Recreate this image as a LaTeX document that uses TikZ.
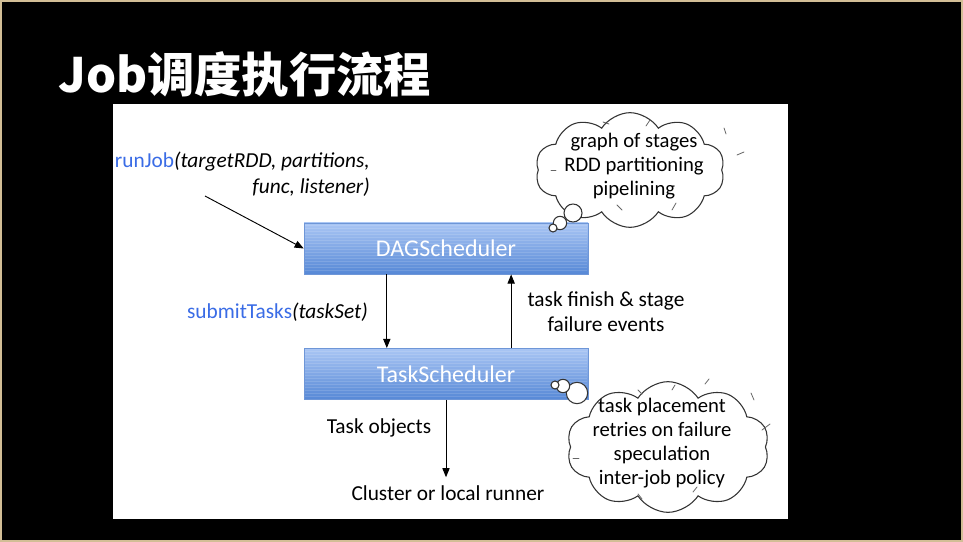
\documentclass[tikz,border=0pt]{standalone}
\usepackage{fontspec}
\setmainfont{Carlito}
\newfontfamily\cjk{Noto Sans CJK SC}
\usepackage{tikz}
\usetikzlibrary{arrows.meta,positioning,calc,shapes.symbols}
\definecolor{frametan}{RGB}{210,190,150}
\definecolor{callblue}{RGB}{58,108,230}
\definecolor{boxtop}{RGB}{170,198,244}
\definecolor{boxbot}{RGB}{86,136,214}
\definecolor{boxline}{RGB}{110,150,215}
\newcommand{\call}[1]{\textcolor{callblue}{#1}}

\begin{document}
\begin{tikzpicture}[x=0.75pt, y=-0.75pt, >={Triangle[length=2.4mm, width=1.9mm]}]
  \tikzset{sched/.style={draw=boxline, top color=boxtop, bottom color=boxbot,
             minimum width=213pt, minimum height=38.5pt, inner sep=0,
             text=white, font=\fontsize{18}{22}\selectfont},
           lbl/.style={font=\fontsize{16}{19}\selectfont, align=center, inner sep=0},
           thought/.style={cloud, draw=black!80, fill=white, line width=0.8pt,
             cloud puffs=10, cloud puff arc=115, aspect=1.7},
           puff/.style={circle, draw=black!80, fill=white, line width=0.8pt,
             inner sep=0, minimum size=#1},
           flow/.style={->, line width=0.7pt},
           sketch/.style={black!60, line width=0.6pt, line cap=round}}

  % slide and panel
  \fill[frametan] (0,0) rectangle (963,542);
  \fill[black] (2,2) rectangle (961,540);
  \fill[white] (113,104) rectangle (788,519);
  \useasboundingbox (0,0) rectangle (963,542);

  \node[anchor=base west, inner sep=0, text=white,
        font=\cjk\bfseries\fontsize{35.5}{40}\selectfont] (title) at (58,93) {Job调度执行流程};

  % the two schedulers
  \node[sched] (dag)  at (446,248.5) {DAGScheduler};
  \node[sched] (task) at (446,374)   {TaskScheduler};
  \foreach \n in {dag,task}
    \foreach \k in {3,6,...,48}
      \draw[white, opacity=0.13, line width=0.5pt]
        ($(\n.north west)+(1,\k)$) -- ($(\n.north east)+(-1,\k)$);

  % job submission
  \node[lbl, anchor=north east, align=right] (runjob) at (370,152)
       {\call{runJob}\textit{(targetRDD, partitions,}\\\textit{func, listener)}};
  \coordinate (rjtail) at (205,196);
  \draw[flow] (rjtail) -- (dag.west);

  % between the schedulers
  \node[lbl, anchor=east] (submit) at (368,312) {\call{submitTasks}\textit{(taskSet)}};
  \node[lbl] (events) at (606,312) {task finish \& stage\\failure events};
  \draw[flow] ($(dag.south west)!0.292!(dag.south east)$)
           -- ($(task.north west)!0.292!(task.north east)$);
  \draw[flow] ($(task.north west)!0.729!(task.north east)$)
           -- ($(dag.south west)!0.729!(dag.south east)$);

  % down to the runner
  \node[lbl] (objs)   at (379,428) {Task objects};
  \node[lbl] (runner) at (448,493) {Cluster or local runner};
  \draw[flow] (task.south) -- ([yshift=6pt]task.south |- runner.north);

  % thought bubble of the DAGScheduler
  \node[thought, minimum width=142pt, minimum height=86pt] (stagecloud) at (630,170) {};
  \node[lbl, font=\fontsize{15.5}{18}\selectfont] (stagetext) at (634,166)
       {graph of stages\\RDD partitioning\\pipelining};
  \node[puff=13.5pt] (sp3) at (573,213) {};
  \node[puff=10pt]   (sp2) at (560,223) {};
  \node[puff=6pt]    (sp1) at (553,228) {};
  \draw[sketch] (603,122) -- (609,124);
  \draw[sketch] (646,126) -- (650,120);
  \draw[sketch] (724,128) -- (726,134);
  \draw[sketch] (737,155) -- (744,152);
  \draw[sketch] (551,170) -- (556,170);
  \draw[sketch] (617,205) -- (622,210);
  \draw[sketch] (672,210) -- (676,203);

  % thought bubble of the TaskScheduler
  \node[thought, minimum width=152pt, minimum height=98pt] (taskcloud) at (668,447) {};
  \node[lbl, font=\fontsize{15.5}{18}\selectfont] (tasktext) at (662,443)
       {task placement\\retries on failure\\speculation\\inter-job policy};
  \node[puff=16pt]   (tp3) at (577,393) {};
  \node[puff=10pt]   (tp2) at (563,386) {};
  \node[puff=6pt]    (tp1) at (555,385) {};
  \draw[sketch] (638,390) -- (642,394);
  \draw[sketch] (672,390) -- (675,385);
  \draw[sketch] (705,384) -- (709,379);
  \draw[sketch] (751,393) -- (754,400);
  \draw[sketch] (762,430) -- (770,424);
  \draw[sketch] (573,458) -- (579,458);
  \draw[sketch] (638,494) -- (642,499);
  \draw[sketch] (693,492) -- (697,487);
\end{tikzpicture}
\end{document}
